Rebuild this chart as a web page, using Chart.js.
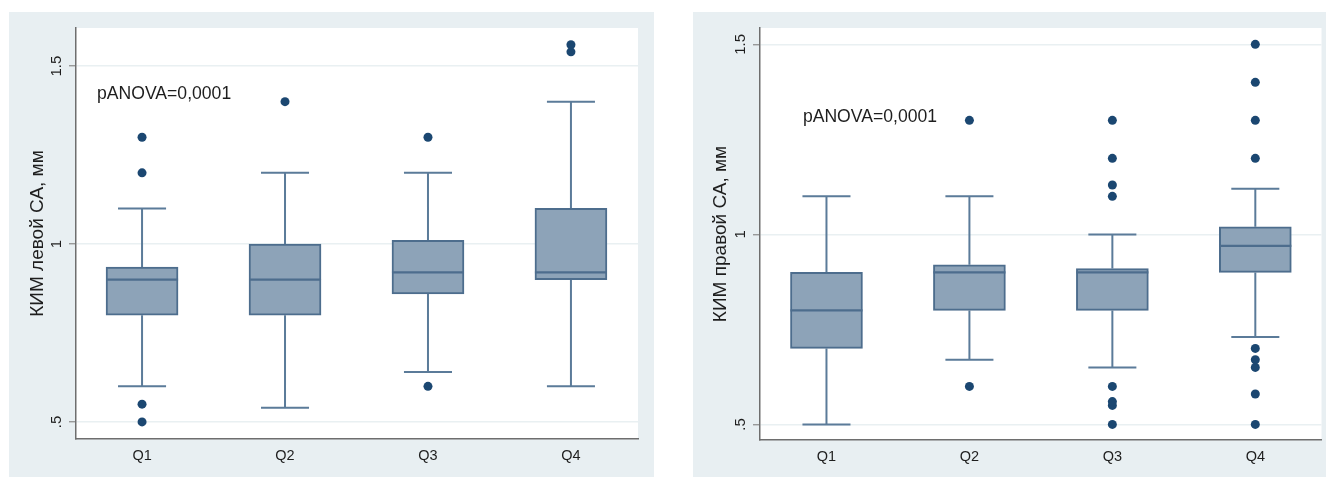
<!DOCTYPE html>
<html lang="ru">
<head>
<meta charset="utf-8">
<title>КИМ левой и правой СА по квартилям</title>
<script src="https://cdn.jsdelivr.net/npm/chart.js@4.4.1/dist/chart.umd.min.js"></script>
<style>
  html, body { margin: 0; padding: 0; background: #ffffff; }
  body { width: 1328px; height: 477px; position: relative; overflow: hidden; }
  canvas { position: absolute; display: block; }
  #left { left: 9px; top: 12px; }
  #right { left: 693px; top: 12px; }
</style>
</head>
<body>
<canvas id="left" width="645" height="465"></canvas>
<canvas id="right" width="633" height="465"></canvas>
<script>
// Quartile groups on the x axis
const categories = ['Q1', 'Q2', 'Q3', 'Q4'];

// Y-axis ticks (Stata-style labels)
const yTickValues = [0.5, 1.0, 1.5];
const yTickLabels = ['.5', '1', '1.5'];

// КИМ левой СА: five-number summaries and outliers per quartile
const leftLowerWhisker = [0.60, 0.54, 0.64, 0.60];
const leftQ1           = [0.80, 0.80, 0.86, 0.90];
const leftMedian       = [0.90, 0.90, 0.92, 0.92];
const leftQ3           = [0.935, 1.00, 1.01, 1.10];
const leftUpperWhisker = [1.10, 1.20, 1.20, 1.40];
const leftOutliers     = [[0.50, 0.55, 1.20, 1.30], [1.40], [0.60, 1.30], [1.54, 1.56]];

// КИМ правой СА
const rightLowerWhisker = [0.50, 0.67, 0.65, 0.73];
const rightQ1           = [0.70, 0.80, 0.80, 0.90];
const rightMedian       = [0.80, 0.90, 0.90, 0.97];
const rightQ3           = [0.90, 0.92, 0.91, 1.02];
const rightUpperWhisker = [1.10, 1.10, 1.00, 1.12];
const rightOutliers     = [[], [0.60, 1.30], [0.50, 0.55, 0.56, 0.60, 1.10, 1.13, 1.20, 1.30],
                           [0.50, 0.58, 0.65, 0.67, 0.70, 1.20, 1.30, 1.40, 1.50]];

const anovaText = 'pANOVA=0,0001';

const FONT = "'Liberation Sans', Arial, Helvetica, sans-serif";
const PANEL_BG = '#e8eff2';
const BOX_FILL = '#8da3b8';
const BOX_EDGE = '#4d6d8d';
const WHISKER = '#5b7b99';
const DOT = '#1b4771';
const TEXT = '#1e1e1e';

// Half-widths (in x units, one unit per category) of the box and whisker caps
const BOX_HALF = 0.252;
const CAP_HALF = 0.168;

const panelPlugin = {
  id: 'panel',
  beforeDraw(chart) {
    const { ctx, chartArea: a, width, height } = chart;
    ctx.save();
    ctx.fillStyle = PANEL_BG;
    ctx.fillRect(0, 0, width, height);
    ctx.fillStyle = '#ffffff';
    ctx.fillRect(a.left, a.top, a.right - a.left, a.bottom - a.top);
    ctx.restore();
  }
};

const notePlugin = {
  id: 'note',
  afterDatasetsDraw(chart, args, opts) {
    const { ctx, scales } = chart;
    ctx.save();
    ctx.font = '17.6px ' + FONT;
    ctx.fillStyle = TEXT;
    ctx.textAlign = 'left';
    ctx.textBaseline = 'middle';
    ctx.fillText(opts.text, scales.x.getPixelForValue(opts.x), scales.y.getPixelForValue(opts.y));
    ctx.restore();
  }
};

function buildBoxChart(canvasId, s) {
  const xs = categories.map((c, i) => i + 1);

  const boxes = xs.map((x, i) => ({ x: x, y: [s.q1[i], s.q3[i]] }));

  const medians = [];
  xs.forEach((x, i) => {
    medians.push({ x: x - BOX_HALF, y: s.med[i] }, { x: x + BOX_HALF, y: s.med[i] }, { x: x, y: null });
  });

  const whiskers = [];
  xs.forEach((x, i) => {
    whiskers.push({ x: x, y: s.q3[i] }, { x: x, y: s.hi[i] }, { x: x, y: null });
    whiskers.push({ x: x - CAP_HALF, y: s.hi[i] }, { x: x + CAP_HALF, y: s.hi[i] }, { x: x, y: null });
    whiskers.push({ x: x, y: s.q1[i] }, { x: x, y: s.lo[i] }, { x: x, y: null });
    whiskers.push({ x: x - CAP_HALF, y: s.lo[i] }, { x: x + CAP_HALF, y: s.lo[i] }, { x: x, y: null });
  });

  const dots = [];
  xs.forEach((x, i) => s.out[i].forEach(v => dots.push({ x: x, y: v })));

  return new Chart(document.getElementById(canvasId), {
    type: 'bar',
    data: {
      datasets: [
        {
          type: 'scatter', data: dots, pointRadius: 4.5, pointHoverRadius: 4.5,
          pointBackgroundColor: DOT, pointBorderColor: DOT, pointBorderWidth: 0, showLine: false
        },
        {
          type: 'scatter', data: medians, showLine: true, spanGaps: false, pointRadius: 0,
          borderColor: BOX_EDGE, borderWidth: 2.2
        },
        {
          type: 'bar', data: boxes, barThickness: 72, backgroundColor: BOX_FILL,
          borderColor: BOX_EDGE, borderWidth: 2, borderSkipped: false
        },
        {
          type: 'scatter', data: whiskers, showLine: true, spanGaps: false, pointRadius: 0,
          borderColor: WHISKER, borderWidth: 2
        }
      ]
    },
    options: {
      responsive: false,
      animation: false,
      events: [],
      layout: { padding: { top: 16, right: s.padRight, left: 0, bottom: 0 } },
      plugins: {
        legend: { display: false },
        tooltip: { enabled: false },
        note: { text: anovaText, x: s.noteX, y: s.noteY }
      },
      scales: {
        x: {
          type: 'linear', min: s.xMin, max: s.xMax, offset: false,
          afterBuildTicks: sc => { sc.ticks = xs.map(v => ({ value: v })); },
          ticks: {
            callback: v => categories[Math.round(v) - 1],
            autoSkip: false, maxRotation: 0, minRotation: 0, padding: 8,
            color: TEXT, font: { family: FONT, size: 14.5 }
          },
          grid: { display: false, drawTicks: false, offset: false },
          border: { color: '#6e6e6e', width: 1.5 },
          afterFit: sc => { sc.height = s.xAxisHeight; }
        },
        y: {
          min: s.yMin, max: s.yMax,
          afterBuildTicks: sc => { sc.ticks = yTickValues.map(v => ({ value: v })); },
          ticks: {
            callback: v => yTickLabels[yTickValues.indexOf(v)],
            minRotation: 90, maxRotation: 90, crossAlign: 'center', padding: 2,
            color: TEXT, font: { family: FONT, size: 15 }
          },
          grid: { color: '#e9f0f2', lineWidth: 1.5, tickColor: '#8a8a8a', tickLength: 7, tickWidth: 1.2 },
          border: { color: '#6e6e6e', width: 1.5 },
          title: {
            display: true, text: s.title, color: TEXT,
            font: { family: FONT, size: 19 }, padding: { top: s.titlePad, bottom: 0 }
          },
          afterFit: sc => { sc.width = 67; }
        }
      }
    },
    plugins: [panelPlugin, notePlugin]
  });
}

buildBoxChart('left', {
  title: 'КИМ левой СА, мм',
  lo: leftLowerWhisker, q1: leftQ1, med: leftMedian, q3: leftQ3, hi: leftUpperWhisker, out: leftOutliers,
  yMin: 0.452, yMax: 1.607, xMin: 0.538, xMax: 4.469,
  padRight: 16, xAxisHeight: 38, titlePad: 17, noteX: 0.685, noteY: 1.421
});

buildBoxChart('right', {
  title: 'КИМ правой СА, мм',
  lo: rightLowerWhisker, q1: rightQ1, med: rightMedian, q3: rightQ3, hi: rightUpperWhisker, out: rightOutliers,
  yMin: 0.459, yMax: 1.543, xMin: 0.535, xMax: 4.463,
  padRight: 3, xAxisHeight: 37, titlePad: 16, noteX: 0.835, noteY: 1.309
});
</script>
</body>
</html>
